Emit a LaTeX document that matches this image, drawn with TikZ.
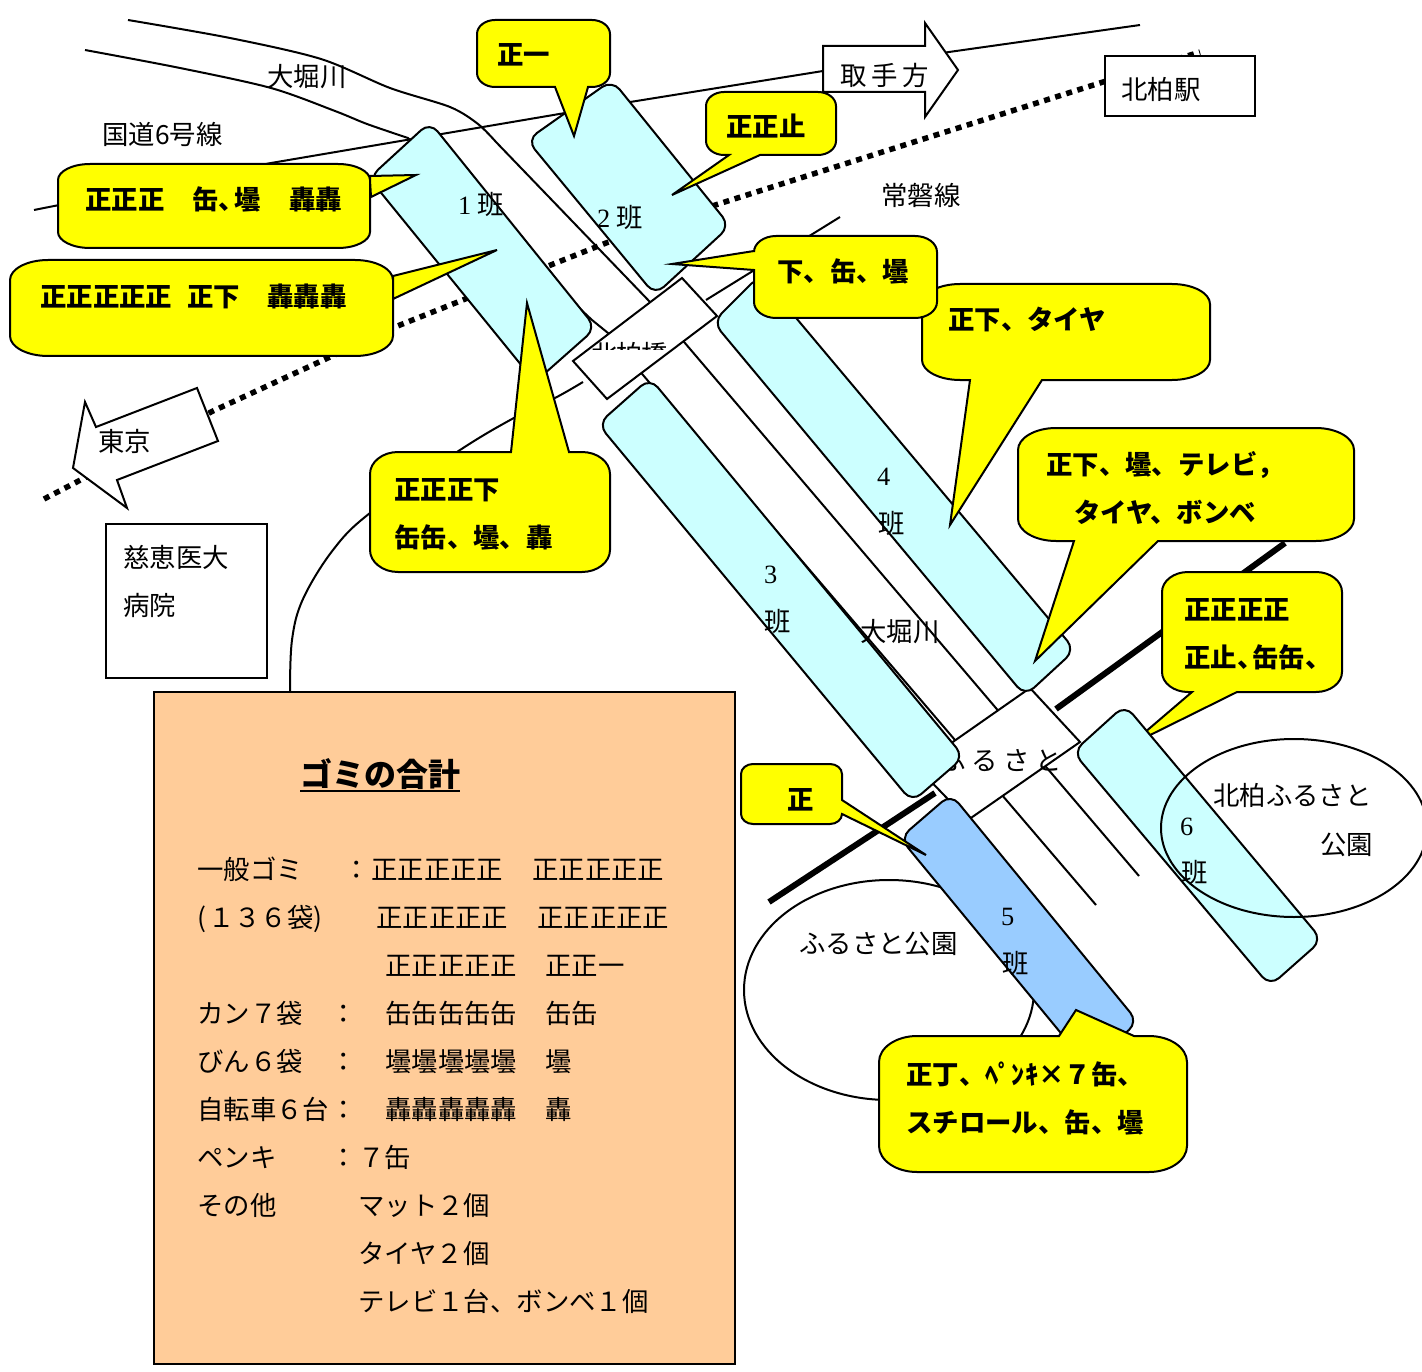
\documentclass[tikz,border=0pt]{standalone}
\usepackage{fontspec}
\setmainfont{Noto Sans CJK JP}
\newfontfamily\latn{Liberation Serif}
\usetikzlibrary{calc}
\definecolor{zonecyan}{RGB}{204,255,255}
\definecolor{zoneblue}{RGB}{153,204,255}
\definecolor{tally}{RGB}{255,204,153}
\definecolor{calloutfill}{RGB}{255,255,0}
\tikzset{
  x=1pt,y=-1pt,
  thin line/.style={draw=black,line width=2pt,line join=round},
  railway/.style={draw=black,line width=5.5pt,dash pattern=on 6pt off 5.6pt},
  thick rail/.style={draw=black,line width=6pt},
  zone/.style={draw=black,line width=2pt,fill=#1,rounded corners=12pt},
  bubble/.style={draw=black,line width=2pt,fill=calloutfill,line join=miter},
  plainbox/.style={draw=black,line width=2pt,fill=white,line join=miter},
  txt/.style={inner sep=0pt,anchor=base west,text=black,font=\fontsize{26.4}{30}\selectfont},
  btxt/.style={txt,font=\fontsize{26.4}{30}\selectfont\bfseries},
}
\newcommand\T[4]{\node[txt] (#1) at ({#2-1},{#3+9.7}) {#4};}
\newcommand\B[4]{\node[btxt] (#1) at ({#2-1},{#3+9.7}) {#4};}
\newcommand\hk{、\hspace{-11pt}}
\newcommand\bubbleshape[8]{%
  \draw[bubble] ({#1+\crx},#2) #5 -- ({#3-\crx},#2)
   .. controls ({#3-.45*\crx},#2) and (#3,{#2+.45*\cry}) .. (#3,{#2+\cry})
   #6 -- (#3,{#4-\cry})
   .. controls (#3,{#4-.45*\cry}) and ({#3-.45*\crx},#4) .. ({#3-\crx},#4)
   #7 -- ({#1+\crx},#4)
   .. controls ({#1+.45*\crx},#4) and (#1,{#4-.45*\cry}) .. (#1,{#4-\cry})
   #8 -- (#1,{#2+\cry})
   .. controls (#1,{#2+.45*\cry}) and ({#1+.45*\crx},#2) .. ({#1+\crx},#2) -- cycle;}
\begin{document}
\begin{tikzpicture}
\useasboundingbox (0,0) rectangle (1422,1372);
% --- ground lines
\draw[thin line] (34,210) -- (271,163) -- (624,103) -- (823,71) -- (949,52) -- (1140,25);
\draw[thin line] plot[smooth,tension=.5] coordinates {(128,20) (230,38) (321,59) (390,88) (450,107) (478,124) (496,142)} -- (650,302) -- (1139,876);
\draw[thin line] plot[smooth,tension=.5] coordinates {(85,50) (180,68) (271,88) (335,111) (367,124) (408,138)} -- (560,290) -- (592,320) -- (608,333) -- (643,375) -- (1096,905);
\draw[railway] (44,499) -- (213,411) -- (395,327) -- (606,243) -- (709,207) -- (1103,82) -- (1200,52);
\draw[thick rail] (769,902) -- (935,793);
\draw[thick rail] (1056,709) -- (1285,543);
\draw[thin line] plot[smooth,tension=.6] coordinates {(290,692) (292,640) (303,599) (333,550) (370,513) (457,452) (512,419) (555,398) (583,382)};
\draw[thin line] (706,300) -- (840,217);
% --- parks
\draw[thin line,fill=white] (889,990) ellipse [x radius=145,y radius=110];
% --- bridges
\draw[plainbox] (1030,688) -- (1080,742) -- (968,820) -- (917,767) -- cycle;
\node[txt] (furusato) at (939,770) {ふ\hspace{5.6pt}る\hspace{5.6pt}さ\hspace{5.6pt}と};
\draw[plainbox] (682,278) -- (717,316) -- (607,399) -- (573,361) -- cycle;
\begin{scope}
  \clip (585,335) rectangle (670,350);
  \node[txt] (kitakashiwabashi) at (591,365) {北\hspace{-1.5pt}柏\hspace{-1.5pt}橋};
\end{scope}
% --- yellow callouts beneath the zones
\def\crx{26}\def\cry{20}
\bubbleshape{1162}{572}{1342}{692}{}{}{-- (1237,692) -- (1130,745) -- (1192,692)}{}
% --- zones
\draw[zone=zonecyan] (430,122) -- (596,328) -- (535,382) -- (369,178) -- cycle;
\draw[zone=zonecyan] (612,80) -- (730,226) -- (655,295) -- (527,140) -- cycle;
\draw[zone=zonecyan] (650,378) -- (964,757) -- (912,802) -- (598,424) -- cycle;
\draw[zone=zonecyan] (760,275) -- (1075,650) -- (1025,696) -- (713,322) -- cycle;
\draw[zone=zoneblue] (951,794) -- (1138,1022) -- (1088,1066) -- (900,838) -- cycle;
\draw[zone=zonecyan] (1125,705) -- (1322,940) -- (1270,986) -- (1073,752) -- cycle;
\draw[thin line] (1294,828) ellipse [x radius=133,y radius=89];
% --- boxes and arrows
\draw[plainbox] (106,524) rectangle (267,678);
\draw[plainbox] (1105,56) rectangle (1255,116);
\draw[plainbox] (823,46) -- (925,46) -- (925,23) -- (958,70) -- (925,117) -- (925,92) -- (823,92) -- cycle;
\draw[plainbox] (197,388) -- (218,441) -- (117,480) -- (127,508) -- (73,468) -- (85,402) -- (96,427) -- cycle;
\draw[draw=black,line width=2pt,fill=tally] (154,692) rectangle (735,1364);
% --- callouts
\def\crx{18}\def\cry{14}
\bubbleshape{477}{20}{610}{87}{}{}{-- (588,87) -- (574,136) -- (555,87)}{}
\bubbleshape{706}{92}{836}{155}{}{}{-- (760,155) -- (672,195) -- (729,155)}{}
\def\crx{32}\def\cry{16}
\bubbleshape{58}{164}{370}{248}{}{-- (371,197) -- (416,175) -- (370,176)}{}{}
\def\crx{38}\def\cry{20}
\bubbleshape{10}{260}{393}{356}{}{-- (393,299) -- (497,250) -- (393,276)}{}{}
\def\crx{28}\def\cry{22}
\bubbleshape{370}{452}{610}{572}{-- (511,452) -- (527,303) -- (569,452)}{}{}{}
\def\crx{38}\def\cry{20}
\bubbleshape{922}{284}{1210}{380}{}{}{-- (1042,380) -- (950,525) -- (970,380)}{}
\def\crx{22}\def\cry{16}
\bubbleshape{754}{236}{937}{318}{}{}{}{-- (754,270) -- (672,264) -- (754,251)}
\def\crx{38}\def\cry{22}
\bubbleshape{1018}{428}{1354}{541}{}{}{-- (1158,541) -- (1035,661) -- (1074,541)}{}
\def\crx{12}\def\cry{10}
\bubbleshape{741}{764}{842}{824}{}{-- (842,800) -- (926,855) -- (842,814)}{}{}
\def\crx{38}\def\cry{26}
\bubbleshape{879}{1036}{1187}{1172}{-- (1059,1036) -- (1076,1010) -- (1134,1036)}{}{}{}
% --- map labels
\T{river1}{268}{77}{大堀川}
\T{road6}{103}{135}{国道6号線}
\T{tokyo}{99}{442}{東京}
\T{jikei}{124}{558}{慈恵医大}
\T{byoin}{124}{606}{病院}
\T{toride}{841}{76}{取\hspace{5pt}手\hspace{5pt}方}
\T{kitakashiwa}{1122}{90}{北柏駅}
\T{joban}{882}{196}{常磐線}
\T{river2}{861}{632}{大堀川}
\T{park1a}{1214}{796}{北柏ふるさと}
\T{park1b}{1321}{845}{公園}
\T{park2}{800}{944}{ふるさと公園}
\T{team1}{459}{205}{{\latn 1}\hspace{6pt}班}
\T{team2}{598}{218}{{\latn 2}\hspace{6pt}班}
\T{team3a}{765}{574}{{\latn 3}}
\T{team3b}{765}{622}{班}
\T{team4a}{878}{476}{{\latn 4}}
\T{team4b}{879}{524}{班}
\T{team5a}{1002}{916}{{\latn 5}}
\T{team5b}{1003}{964}{班}
\T{team6a}{1181}{826}{{\latn 6}}
\T{team6b}{1182}{873}{班}
% --- callout labels
\B{c1}{498}{55}{正一}
\B{c2}{727}{127}{正正止}
\B{c3a}{86}{200}{正正正}
\B{c3b}{193}{200}{缶\hk 壜}
\B{c3c}{290}{200}{轟轟}
\B{c4a}{41}{297}{正正正正正}
\B{c4b}{188}{297}{正下}
\B{c4c}{268}{297}{轟轟轟}
\B{c5a}{395}{490}{正正正下}
\B{c5b}{395}{538}{缶缶、壜、轟}
\B{c6}{778}{272}{下、缶、壜}
\B{c7}{949}{320}{正下、タイヤ}
\B{c8a}{1047}{465}{正下、壜、テレビ，}
\B{c8b}{1075}{513}{タイヤ、ボンベ}
\B{c9a}{1185}{610}{正正正正}
\B{c9b}{1185}{658}{正止\hk 缶缶、}
\B{c10}{788}{800}{正}
\B{c11a}{907}{1075}{正丁、ﾍﾟﾝｷ×７缶、}
\B{c11b}{907}{1123}{スチロール、缶、壜}
% --- tally
\node[btxt,font=\fontsize{32}{36}\selectfont\bfseries] (title) at (300,786) {ゴミの合計};
\draw[draw=black,line width=2pt] ($(title.base west)+(0,4.5)$) -- ($(title.base east)+(0,4.5)$);
\T{l1}{198}{870}{一般ゴミ}
\T{l1c}{344}{870}{：}
\T{l1a}{372}{870}{正正正正正}
\T{l1b}{533}{870}{正正正正正}
\T{l2}{198}{918}{(\hspace{2pt}１３６袋)}
\T{l2a}{377}{918}{正正正正正}
\T{l2b}{538}{918}{正正正正正}
\T{l3a}{386}{966}{正正正正正}
\T{l3b}{546}{966}{正正一}
\T{l4}{198}{1014}{カン７袋}
\T{l4c}{331}{1014}{：}
\T{l4a}{386}{1014}{缶缶缶缶缶}
\T{l4b}{546}{1014}{缶缶}
\T{l5}{198}{1062}{びん６袋}
\T{l5c}{331}{1062}{：}
\T{l5a}{386}{1062}{壜壜壜壜壜}
\T{l5b}{546}{1062}{壜}
\T{l6}{198}{1110}{自転車６台}
\T{l6c}{331}{1110}{：}
\T{l6a}{386}{1110}{轟轟轟轟轟}
\T{l6b}{546}{1110}{轟}
\T{l7}{198}{1158}{ペンキ}
\T{l7c}{331}{1158}{：}
\T{l7a}{359}{1158}{７缶}
\T{l8}{198}{1206}{その他}
\T{l8a}{359}{1206}{マット２個}
\T{l9a}{359}{1254}{タイヤ２個}
\T{l10a}{359}{1302}{テレビ１台、ボンベ１個}
\end{tikzpicture}
\end{document}
